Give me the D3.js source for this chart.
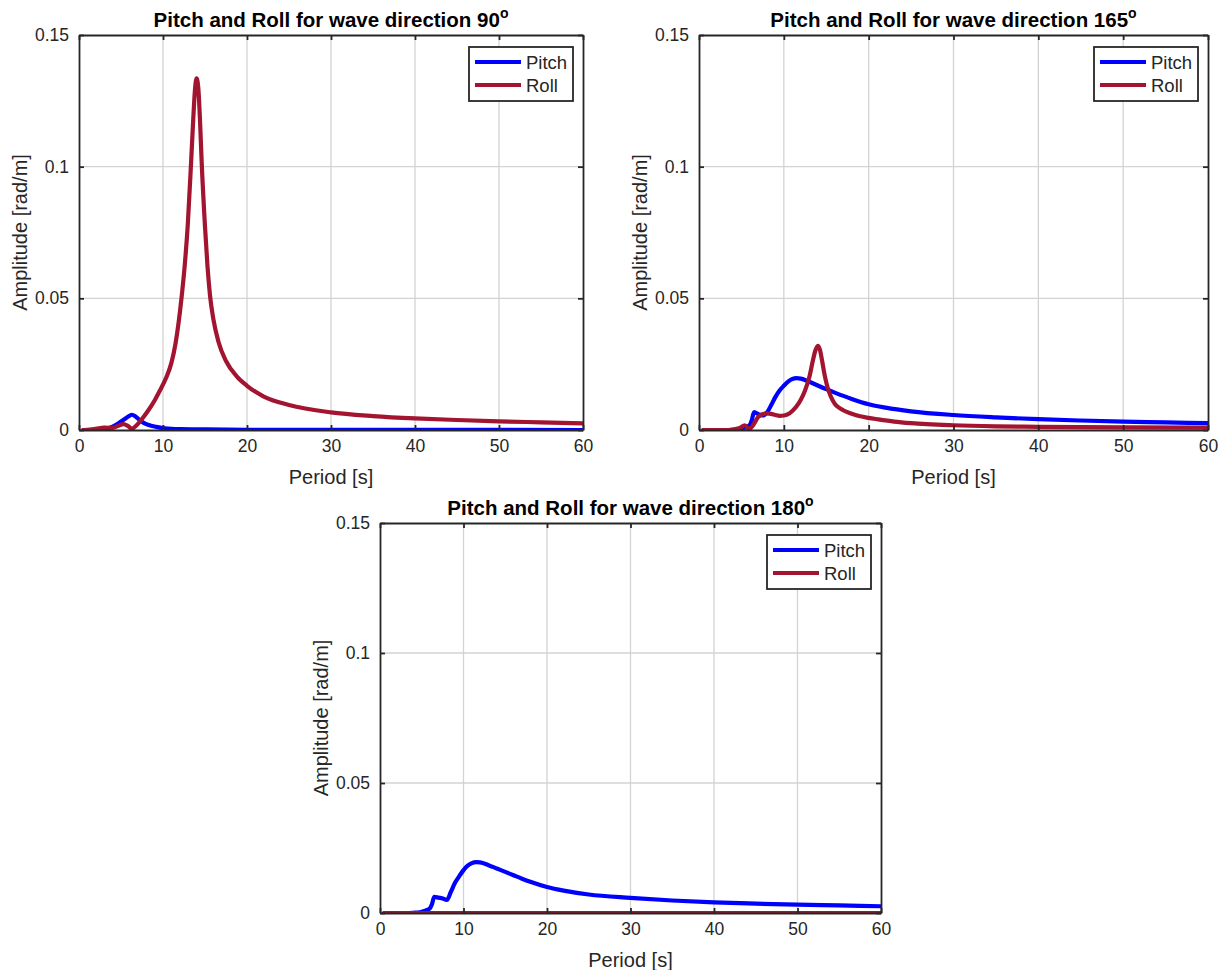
<!DOCTYPE html>
<html>
<head>
<meta charset="utf-8">
<script src="https://cdn.jsdelivr.net/npm/d3@7"></script>
<style>
  html, body { margin: 0; padding: 0; background: #ffffff; }
  svg { display: block; }
  text { font-family: "Liberation Sans", Arial, Helvetica, sans-serif; fill: #262626; }
</style>
</head>
<body>
<svg id="chart" width="1226" height="970"></svg>
<script>
// Response amplitude operators: [period (s), amplitude (rad/m)]
const pitch090 = [[0.5,0],[2,0],[3,0.0002],[3.7,0.0009],[4.3,0.0018],[4.9,0.003],[5.5,0.0043],[6.0,0.0054],[6.3,0.0058],[6.7,0.0052],[7.2,0.0038],[7.7,0.0027],[8.3,0.0019],[9.2,0.0012],[10.2,0.0006],[12,0.0003],[15,0.0002],[20,0.0001],[30,0.00005],[60,0]];
const roll090 = [[0.5,0],[1,0.0001],[2,0.0004],[3,0.0009],[4,0.0008],[4.7,0.0016],[5.3,0.0022],[5.8,0.0016],[6.3,0.0005],[6.8,0.0016],[7.5,0.0042],[8.2,0.0072],[9.0,0.0112],[9.6,0.0148],[10.4,0.0200],[11.0,0.0255],[11.5,0.0330],[12.2,0.0500],[12.6,0.0630],[12.95,0.0780],[13.35,0.1020],[13.6,0.1180],[13.8,0.1290],[14.0,0.1335],[14.2,0.1300],[14.4,0.1180],[14.6,0.1020],[15.0,0.0772],[15.3,0.0620],[15.6,0.0510],[16.0,0.0420],[16.6,0.0335],[17.5,0.0262],[18.8,0.0203],[20,0.0168],[22,0.0127],[25,0.0095],[30,0.0067],[35,0.0053],[40,0.0044],[45,0.0038],[50,0.0033],[55,0.0029],[60,0.0025]];

const pitch165 = [[0.5,0],[3,0],[4,0.0001],[4.5,0.0002],[5,0.0005],[5.5,0.001],[6,0.002],[6.2,0.0035],[6.5,0.0068],[7,0.0060],[7.5,0.0055],[8,0.0066],[8.5,0.0094],[9,0.0125],[9.5,0.0150],[10,0.0168],[10.5,0.0184],[11,0.0194],[11.5,0.0197],[12,0.0195],[13,0.0183],[14,0.0169],[15,0.0155],[16,0.0142],[18,0.0118],[20,0.0098],[22,0.0085],[25,0.0071],[30,0.0057],[35,0.0048],[40,0.0041],[45,0.0036],[50,0.0032],[55,0.0029],[60,0.0026]];
const roll165 = [[0.5,0],[3,0],[4,0.0002],[4.8,0.0008],[5.4,0.0018],[5.9,0.0003],[6.3,0.0015],[7,0.0050],[7.5,0.0060],[8,0.0063],[8.5,0.0061],[9,0.0057],[9.5,0.0054],[10,0.0055],[10.5,0.0060],[11,0.0072],[11.5,0.0090],[12,0.0115],[12.5,0.0150],[13,0.0200],[13.4,0.0260],[13.7,0.0300],[14,0.0320],[14.25,0.0305],[14.5,0.0265],[14.8,0.0210],[15.1,0.0168],[15.5,0.0130],[16,0.0100],[16.5,0.0085],[17,0.0075],[18,0.0062],[19,0.0052],[20,0.0046],[21,0.0041],[23,0.0032],[25,0.0026],[30,0.0018],[35,0.0014],[40,0.0012],[50,0.0010],[60,0.0009]];

const pitch180 = [[0.5,0],[3,0],[4,0.0001],[4.5,0.0002],[5,0.0005],[5.5,0.001],[6,0.0019],[6.2,0.0032],[6.5,0.0062],[7,0.0059],[7.5,0.0056],[8,0.0050],[8.5,0.0082],[9,0.0117],[9.5,0.0142],[10,0.0165],[10.5,0.0182],[11,0.0192],[11.5,0.0196],[12,0.0195],[13,0.0184],[14,0.0171],[15,0.0158],[16,0.0145],[17,0.0132],[18,0.0120],[20,0.0100],[22,0.0086],[25,0.0071],[30,0.0058],[35,0.0048],[40,0.0041],[45,0.0036],[50,0.0032],[55,0.0029],[60,0.0026]];
const roll180 = [[0.5,0],[10,0],[20,0],[30,0],[40,0],[50,0],[60,0]];

const periodTicks = [0, 10, 20, 30, 40, 50, 60];
const amplitudeTicks = [0, 0.05, 0.1, 0.15];
const amplitudeTickLabels = ["0", "0.05", "0.1", "0.15"];
const seriesNames = ["Pitch", "Roll"];
const seriesColors = ["#0000ff", "#a2142f"];
const waveDirections = ["90", "165", "180"];

const panels = [
  { dir: waveDirections[0], series: [pitch090, roll090], left: 79,  right: 583,  top: 35,  bottom: 430 },
  { dir: waveDirections[1], series: [pitch165, roll165], left: 699, right: 1208, top: 35,  bottom: 430 },
  { dir: waveDirections[2], series: [pitch180, roll180], left: 380, right: 881,  top: 523, bottom: 913 }
];

const svg = d3.select("#chart");
const axisColor = "#262626";

panels.forEach((p, i) => {
  const x = d3.scaleLinear().domain([0, 60]).range([p.left, p.right]);
  const y = d3.scaleLinear().domain([0, 0.15]).range([p.bottom, p.top]);
  const g = svg.append("g");

  const clipId = "clip" + i;
  g.append("clipPath").attr("id", clipId)
    .append("rect")
    .attr("x", p.left).attr("y", p.top)
    .attr("width", p.right - p.left).attr("height", p.bottom - p.top);

  // grid
  const grid = g.append("g").attr("stroke", "#d3d3d3").attr("stroke-width", 1.3);
  periodTicks.slice(1, -1).forEach(t => {
    grid.append("line").attr("x1", x(t)).attr("x2", x(t)).attr("y1", p.top).attr("y2", p.bottom);
  });
  amplitudeTicks.slice(1, -1).forEach(t => {
    grid.append("line").attr("x1", p.left).attr("x2", p.right).attr("y1", y(t)).attr("y2", y(t));
  });

  // curves
  const line = d3.line().x(d => x(d[0])).y(d => y(d[1])).curve(d3.curveMonotoneX);
  const curves = g.append("g").attr("clip-path", `url(#${clipId})`);
  p.series.forEach((s, k) => {
    curves.append("path").datum(s)
      .attr("d", line)
      .attr("fill", "none")
      .attr("stroke", seriesColors[k])
      .attr("stroke-width", 4.2)
      .attr("stroke-linejoin", "round")
      .attr("stroke-linecap", "round");
  });

  // axes (box with inward ticks on all sides)
  const tickLen = 5;
  const bottomAxis = d3.axisBottom(x).tickValues(periodTicks).tickSizeInner(-tickLen).tickSizeOuter(0).tickPadding(10);
  const topAxis = d3.axisTop(x).tickValues(periodTicks).tickSizeInner(-tickLen).tickSizeOuter(0).tickFormat("");
  const leftAxis = d3.axisLeft(y).tickValues(amplitudeTicks).tickSizeInner(-tickLen).tickSizeOuter(0).tickPadding(10)
    .tickFormat((d, j) => amplitudeTickLabels[j]);
  const rightAxis = d3.axisRight(y).tickValues(amplitudeTicks).tickSizeInner(-tickLen).tickSizeOuter(0).tickFormat("");

  const styleAxis = sel => {
    sel.selectAll("path").attr("stroke", axisColor).attr("stroke-width", 1.8);
    sel.selectAll("line").attr("stroke", axisColor).attr("stroke-width", 1.8);
    sel.selectAll("text").attr("fill", axisColor).style("font-size", "17.5px")
      .style("font-family", '"Liberation Sans", Arial, sans-serif');
  };
  g.append("g").attr("transform", `translate(0,${p.bottom})`).call(bottomAxis).call(styleAxis);
  g.append("g").attr("transform", `translate(0,${p.top})`).call(topAxis).call(styleAxis);
  g.append("g").attr("transform", `translate(${p.left},0)`).call(leftAxis).call(styleAxis);
  g.append("g").attr("transform", `translate(${p.right},0)`).call(rightAxis).call(styleAxis);

  // axis labels
  const cx = (p.left + p.right) / 2;
  const cy = (p.top + p.bottom) / 2;
  g.append("text").attr("x", cx).attr("y", p.bottom + 54)
    .attr("text-anchor", "middle").style("font-size", "20px").text("Period [s]");
  g.append("text").attr("transform", `translate(${p.left - 52},${cy}) rotate(-90)`)
    .attr("text-anchor", "middle").style("font-size", "20px").text("Amplitude [rad/m]");

  // title with degree superscript
  const title = g.append("text").attr("x", cx).attr("y", p.top - 8)
    .attr("text-anchor", "middle").style("font-size", "20.5px").style("font-weight", "bold")
    .style("fill", "#000");
  title.append("tspan").text("Pitch and Roll for wave direction " + p.dir);
  title.append("tspan").attr("dy", -9).style("font-size", "14px").text("o");

  // legend
  const lx = p.right - 114, ly = p.top + 12, lw = 104, lh = 54;
  const legend = g.append("g");
  legend.append("rect").attr("x", lx).attr("y", ly).attr("width", lw).attr("height", lh)
    .attr("fill", "#fff").attr("stroke", axisColor).attr("stroke-width", 1.8);
  seriesNames.forEach((name, k) => {
    const yy = ly + 15 + k * 23;
    legend.append("line").attr("x1", lx + 6).attr("x2", lx + 52).attr("y1", yy).attr("y2", yy)
      .attr("stroke", seriesColors[k]).attr("stroke-width", 4.2);
    legend.append("text").attr("x", lx + 57).attr("y", yy + 6.5)
      .style("font-size", "18.5px").text(name);
  });
});
</script>
</body>
</html>
